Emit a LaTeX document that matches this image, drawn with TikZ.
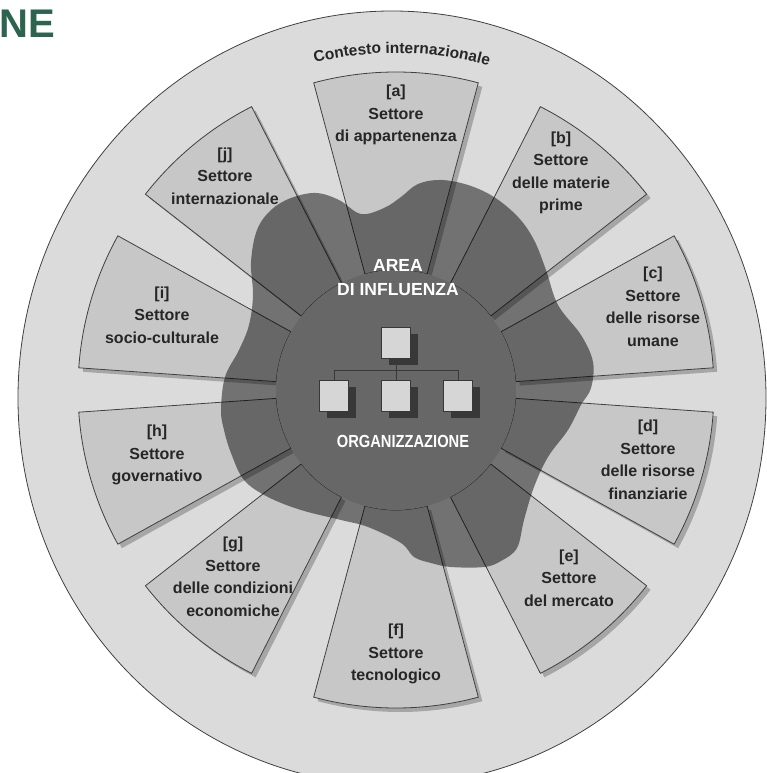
\documentclass[tikz,border=0pt]{standalone}
\usepackage{fontspec}
\setmainfont{Liberation Sans}
\usetikzlibrary{decorations.text,shadows}

\definecolor{ringgray}{gray}{0.86}
\definecolor{sectorgray}{gray}{0.78}
\definecolor{sectorshadow}{gray}{0.65}
\definecolor{linegray}{gray}{0.25}
\definecolor{labelgray}{gray}{0.15}
\definecolor{boxgray}{gray}{0.84}
\definecolor{boxshadow}{gray}{0.22}
\definecolor{titlegreen}{HTML}{2D6450}

\tikzset{
  ring/.style={fill=ringgray, draw=linegray, line width=0.8pt},
  sectorfill/.style={fill=sectorgray, draw=linegray, line width=0.8pt},
  sectorshade/.style={fill=sectorshadow},
  influence/.style={fill=black, fill opacity=0.48},
  label/.style={align=center, text=labelgray, inner sep=0pt,
    font=\bfseries\fontsize{16}{22.5}\selectfont},
  whitelabel/.style={align=center, text=white, inner sep=0pt,
    font=\bfseries\fontsize{17.5}{24}\selectfont},
  orgbox/.style={draw=boxshadow, line width=0.8pt, fill=boxgray,
    minimum width=29pt, minimum height=31pt, inner sep=0pt,
    drop shadow={shadow xshift=7pt, shadow yshift=-7pt, fill=boxshadow, opacity=1}},
  tie/.style={draw=boxshadow, line width=0.8pt}
}

\begin{document}
\begin{tikzpicture}[x=1pt, y=1pt]
  \useasboundingbox (-396,-383) rectangle (371,390);
  \clip (-396,-383) rectangle (371,390);

  % international context
  \draw[ring] (-4,-8) ellipse [x radius=374, y radius=387];
  \path[decorate, decoration={text along path, text align=center,
      text={|\bfseries\fontsize{15.5}{15.5}\selectfont\color{labelgray}|Contesto internazionale}}]
    (110:337) arc[start angle=110, end angle=68, radius=337];

  % sector shadows
  \foreach \s/\e in {75/105, 38/63, 4/29, -29/-4, -63/-38, -105/-75,
                     -142/-117, -176/-151, 151/176, 117/142} {
    \fill[sectorshade, shift={(4,-4)}]
      (\s:120) arc[start angle=\s, end angle=\e, radius=120]
      -- (\e:318) arc[start angle=\e, end angle=\s, radius=318] -- cycle;
  }
  % sectors
  \foreach \s/\e in {75/105, 38/63, 4/29, -29/-4, -63/-38, -105/-75,
                     -142/-117, -176/-151, 151/176, 117/142} {
    \draw[sectorfill]
      (\s:120) arc[start angle=\s, end angle=\e, radius=120]
      -- (\e:318) arc[start angle=\e, end angle=\s, radius=318] -- cycle;
  }
  % organisation core
  \fill[sectorgray] (0,0) circle [radius=120];

  % area of influence
  \fill[influence] plot[smooth cycle, tension=0.6] coordinates {
    (-145,128) (-139,160) (-125,180) (-105,192) (-80,197) (-57,190)
    (-35,176) (-12,182) (5,193) (22,206) (45,210) (72,205) (98,193)
    (122,173) (138,150) (150,120) (162,85) (185,55) (197,28) (195,2)
    (185,-15) (172,-40) (152,-67) (138,-97) (128,-130) (121,-158)
    (105,-171) (88,-177) (55,-177) (35,-173) (18,-167) (5,-153)
    (-28,-137) (-55,-130) (-95,-120) (-128,-107) (-152,-90) (-165,-63)
    (-172,-40) (-175,-20) (-171,13) (-157,40) (-147,65) (-143,95)};

  % sector labels
  \node[label] (la) at (0,275)     {[a]\\Settore\\di appartenenza};
  \node[label] (lb) at (165,217)   {[b]\\Settore\\delle materie\\prime};
  \node[label] (lc) at (257,83)    {[c]\\Settore\\delle risorse\\umane};
  \node[label] (ld) at (252,-70)   {[d]\\Settore\\delle risorse\\finanziarie};
  \node[label] (le) at (173,-188)  {[e]\\Settore\\del mercato};
  \node[label] (lf) at (0,-264)    {[f]\\Settore\\tecnologico};
  \node[label] (lg) at (-163,-187) {[g]\\Settore\\delle condizioni\\economiche};
  \node[label] (lh) at (-239,-65)  {[h]\\Settore\\governativo};
  \node[label] (li) at (-234,75)   {[i]\\Settore\\socio-culturale};
  \node[label] (lj) at (-171,214)  {[j]\\Settore\\internazionale};

  \node[whitelabel] (area) at (2,112) {AREA\\DI INFLUENZA};

  % organisation chart
  \coordinate (busL) at (-62,20);
  \coordinate (busR) at (62,20);
  \node[orgbox] (top) at (0,47) {};
  \draw[tie] (busL) -- (busR);
  \draw[tie] (top.south) -- (top.south |- busL);
  \node[orgbox] (boxL) at (-62,-6) {};
  \node[orgbox] (boxM) at (0,-6) {};
  \node[orgbox] (boxR) at (62,-6) {};
  \draw[tie] (busL) -- (boxL.north);
  \draw[tie] (boxM.north |- busL) -- (boxM.north);
  \draw[tie] (busR) -- (boxR.north);

  \node[whitelabel] (org) at (7,-51) {\scalebox{0.84}[1]{ORGANIZZAZIONE}};

  % heading fragment
  \node[anchor=base west, inner sep=0pt, text=titlegreen,
        font=\bfseries\fontsize{40}{40}\selectfont] (title) at (-397,352) {NE};
\end{tikzpicture}
\end{document}
